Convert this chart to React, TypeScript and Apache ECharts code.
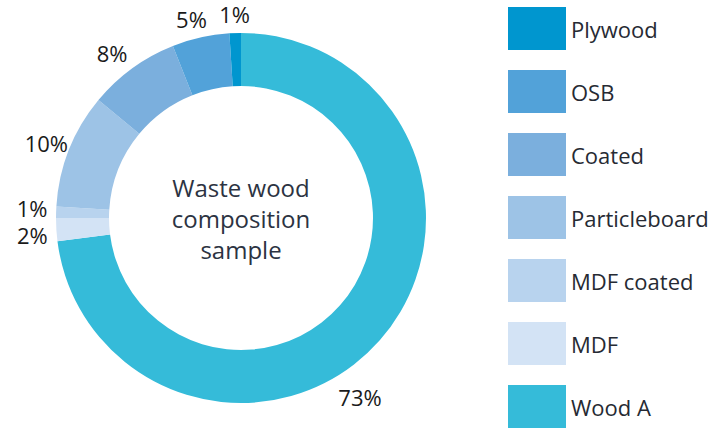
import React, { useEffect, useRef } from "react";
import * as echarts from "echarts";

// Data in clockwise order from 12 o'clock
const categories = ["Wood A", "MDF", "MDF coated", "Particleboard", "Coated", "OSB", "Plywood"];
const values = [73, 2, 1, 10, 8, 5, 1];
const colors = ["#35bbd9", "#d3e3f5", "#b8d3ee", "#9dc3e6", "#7bafdd", "#52a2d9", "#0096cf"];
const legendOrder = ["Plywood", "OSB", "Coated", "Particleboard", "MDF coated", "MDF", "Wood A"];
const centerTitle = "Waste wood\ncomposition\nsample";

const FONT = "'Open Sans', sans-serif";

// small label nudges (label styling, not data)
const labelNudge: Record<string, [number, number]> = {
  "Wood A": [-39, 44],
  "MDF": [0, 4],
  "MDF coated": [0, -4],
  "Plywood": [5, 0],
  "Coated": [-4, 0],
};

export default function App() {
  const ref = useRef<HTMLDivElement>(null);
  useEffect(() => {
    if (!ref.current) return;
    const chart = echarts.init(ref.current, undefined, { renderer: "svg" });
    const data = categories.map((name, i) => ({
      name,
      value: values[i],
      itemStyle: { color: colors[i] },
    }));
    chart.setOption({
      animation: false,
      backgroundColor: "#ffffff",
      legend: {
        data: legendOrder,
        orient: "vertical",
        left: 508,
        top: 7,
        height: 440,
        padding: 0,
        itemWidth: 58,
        itemHeight: 43,
        itemGap: 20,
        icon: "rect",
        selectedMode: false,
        textStyle: { fontFamily: FONT, fontSize: 22, color: "#262a33" },
      },
      graphic: [
        {
          type: "text",
          x: 241,
          y: 218,
          style: {
            text: centerTitle,
            textAlign: "center",
            textVerticalAlign: "middle",
            fontFamily: FONT,
            fontSize: 24,
            lineHeight: 31,
            fill: "#2c3342",
          },
        },
      ],
      series: [
        {
          type: "pie",
          center: [241, 218],
          radius: [132, 185],
          startAngle: 90,
          clockwise: true,
          avoidLabelOverlap: false,
          data,
          itemStyle: { borderWidth: 0 },
          label: {
            show: true,
            position: "outside",
            formatter: "{c}%",
            fontFamily: FONT,
            fontSize: 22,
            lineHeight: 22,
            color: "#1a1a1a",
          },
          labelLine: { show: false, length: 19, length2: 0 },
          labelLayout: (p: any) => {
            const n = labelNudge[categories[p.dataIndex]] || [0, 0];
            return { align: "center", verticalAlign: "middle", dx: n[0], dy: n[1] };
          },
        },
      ],
    });
    return () => chart.dispose();
  }, []);
  return (
    <div
      ref={ref}
      style={{ position: "fixed", left: 0, top: 0, width: 719, height: 429 }}
    />
  );
}
